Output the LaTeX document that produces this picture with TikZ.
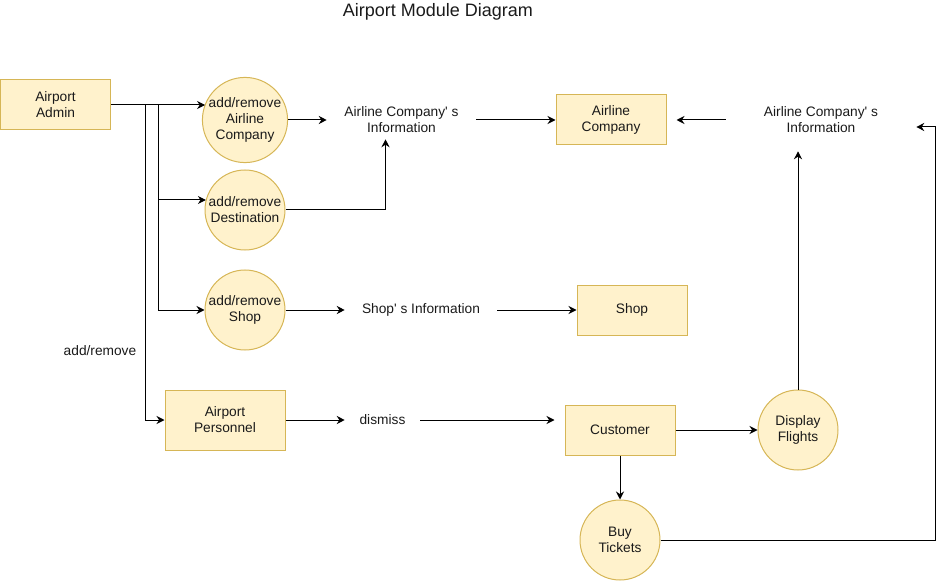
\documentclass[tikz,border=0pt]{standalone}
\usepackage{fontspec}
\setmainfont{Liberation Sans}
\usetikzlibrary{arrows.meta,calc}
\definecolor{boxfill}{HTML}{FFF2CC}
\definecolor{boxdraw}{HTML}{D6B656}
\definecolor{txt}{HTML}{1A1A1A}
\tikzset{
  box/.style={draw=boxdraw,fill=boxfill,line width=0.75pt,minimum width=82.5pt,minimum height=37.5pt,align=center,inner sep=1pt,font=\fontsize{10.3}{12}\selectfont,text=txt},
  proc/.style={circle,draw=boxdraw,fill=boxfill,line width=0.75pt,minimum size=60pt,align=center,inner sep=0pt,font=\fontsize{10.3}{12}\selectfont,text=txt},
  lbl/.style={align=center,inner sep=0pt,font=\fontsize{10.3}{12}\selectfont,text=txt},
  arr/.style={-{Stealth[length=6pt,width=6pt]},line width=0.75pt,black},
  ln/.style={line width=0.75pt,black}
}
\begin{document}
\begin{tikzpicture}[x=0.75pt,y=-0.75pt]
\useasboundingbox (0,0) rectangle (943,581);
\node[lbl,font=\fontsize{13.5}{16}\selectfont] (title) at (438,12) {Airport Module Diagram};

\node[box] (admin) at (55.5,105) {Airport\\Admin};
\node[proc] (addA) at (245,120) {add/remove\\Airline\\Company};
\node[proc] (addD) at (245,210) {add/remove\\Destination};
\node[proc] (addS) at (245,310) {add/remove\\Shop};
\node[lbl,minimum width=111.75pt,minimum height=28.5pt] (info1) at (401.5,120) {Airline Company\textquotesingle\ s\\Information};
\node[box] (air) at (611,120) {Airline\\Company};
\node[lbl,minimum width=142.5pt,minimum height=46.5pt] (info2) at (821,120) {Airline Company\textquotesingle\ s\\Information};
\node[lbl,minimum width=114pt] (sinfo) at (421,310) {Shop\textquotesingle\ s Information};
\node[box] (shop) at (632,310) {Shop};
\node[lbl] (addlbl) at (100,351) {add/remove};
\node[box,minimum width=90pt,minimum height=45pt] (pers) at (225,420) {Airport\\Personnel};
\node[lbl,minimum width=56.25pt] (dis) at (382.5,420) {dismiss};
\node[box] (cust) at (620,430) {Customer};
\node[proc] (disp) at (798,430) {Display\\Flights};
\node[proc] (buy) at (620,540) {Buy\\Tickets};

\coordinate (b1) at (158,105);
\coordinate (b2) at (145,105);
\coordinate (c3) at (935,127);
\coordinate (d1) at (158,200);

\draw[arr] (admin.east) -- (admin.east -| addA.158);
\draw[arr] (b1) |- (d1 -| addD.165.5);
\draw[arr] (b1) |- (addS.west);
\draw[arr] (b2) |- (pers.west);
\draw[arr] (addA.east) -- (info1.west);
\draw[arr] (info1.east) -- (air.west);
\draw[arr] (addD.east) -| ($(info1.south)+(-16,0)$);
\draw[arr,shorten >=7.5pt] (info2.west) -- (air.east);
\draw[arr] (addS.east) -- (sinfo.west);
\draw[arr] (sinfo.east) -- (shop.west);
\draw[arr] (pers.east) -- (dis.west);
\draw[arr,shorten >=7.5pt] (dis.east) -- (dis.east -| cust.west);
\draw[arr] (cust.east) -- (disp.west);
\draw[arr] (cust.south) -- (buy.north);
\draw[arr] (disp.north) -- (disp.north |- info2.south);
\draw[arr] (buy.east) -| (c3) -- ($(info2.east)+(0,7)$);
\end{tikzpicture}
\end{document}
